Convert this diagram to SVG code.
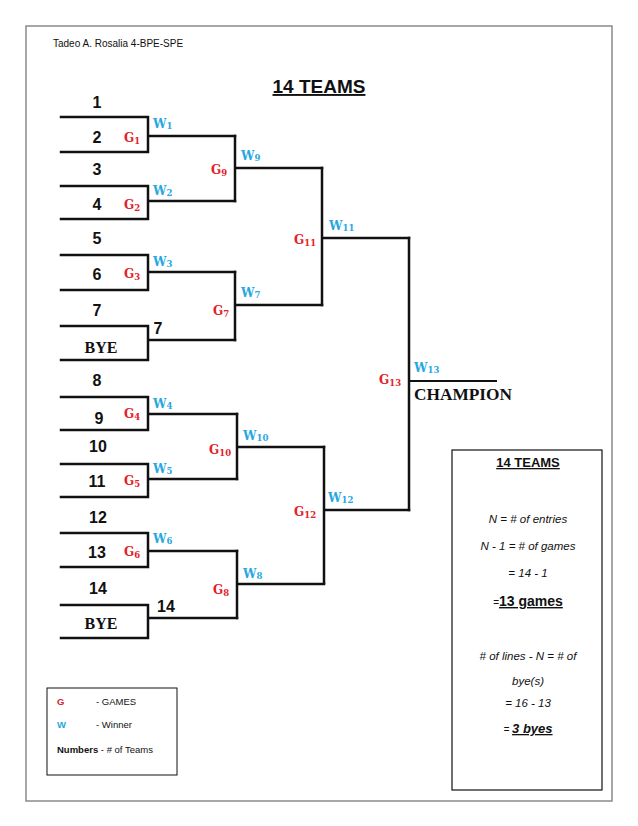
<svg xmlns="http://www.w3.org/2000/svg" width="638" height="826" viewBox="0 0 638 826">
<style>
.pg{fill:none;stroke:#8a8a8a;stroke-width:1.5}
.ln{fill:none;stroke:#111;stroke-width:2.5;stroke-linecap:square}
.num{font-family:"Liberation Sans",Arial,sans-serif;font-weight:bold;font-size:16px;fill:#111;text-anchor:middle}
.bye{font-family:"Liberation Serif","DejaVu Serif",serif;font-weight:bold;font-size:16px;fill:#111}
.g{font-family:"DejaVu Serif",serif;font-weight:bold;font-size:12px;fill:#e32129}
.w{font-family:"DejaVu Serif",serif;font-weight:bold;font-size:12px;fill:#27a7df}
.sub{font-size:8.5px}
.box{font-family:"Liberation Sans",Arial,sans-serif;font-size:11.5px;fill:#111;text-anchor:middle;font-style:italic}
.leg{font-family:"Liberation Sans",Arial,sans-serif;font-size:9.5px;fill:#111}
</style>
<rect x="0" y="0" width="638" height="826" fill="#fff"/>
<rect class="pg" x="26" y="26" width="586" height="775"/>
<text x="53" y="47" font-family="Liberation Sans, Arial, sans-serif" font-size="10" fill="#111">Tadeo A. Rosalia 4-BPE-SPE</text>
<text x="319" y="93" font-family="Liberation Sans, Arial, sans-serif" font-size="19" font-weight="bold" fill="#111" text-anchor="middle" text-decoration="underline">14 TEAMS</text>

<g id="connectors">
<path class="ln" d="M61,117H148V152H61M148,136H235"/>
<path class="ln" d="M61,186H148V219H61M148,201H235"/>
<path class="ln" d="M61,255H148V290H61M148,272H235"/>
<path class="ln" d="M61,326H148V360H61M148,340H235"/>
<path class="ln" d="M61,397H148V430H61M148,414H237"/>
<path class="ln" d="M61,464H148V497H61M148,479H237"/>
<path class="ln" d="M61,533H148V567H61M148,551H237"/>
<path class="ln" d="M61,605H148V638H61M148,618H237"/>
<path class="ln" d="M235,136V201M235,168H322"/>
<path class="ln" d="M235,272V340M235,305H322"/>
<path class="ln" d="M237,414V479M237,447H324"/>
<path class="ln" d="M237,551V618M237,584H324"/>
<path class="ln" d="M322,168V305M322,238H409"/>
<path class="ln" d="M324,447V583M324,510H409"/>
<path class="ln" d="M409,238V510"/>
<path d="M409,381H497" stroke="#111" stroke-width="2" fill="none"/>
</g>

<g id="teams">
<text class="num" x="97" y="108">1</text>
<text class="num" x="97" y="143">2</text>
<text class="num" x="97" y="175">3</text>
<text class="num" x="97" y="210">4</text>
<text class="num" x="97" y="244">5</text>
<text class="num" x="97" y="280">6</text>
<text class="num" x="97" y="316">7</text>
<text class="bye" x="101" y="353" style="text-anchor:middle">BYE</text>
<text class="num" x="97" y="386">8</text>
<text class="num" x="99" y="424">9</text>
<text class="num" x="98" y="452">10</text>
<text class="num" x="97" y="487">11</text>
<text class="num" x="98" y="523">12</text>
<text class="num" x="97" y="558">13</text>
<text class="num" x="98" y="594">14</text>
<text class="bye" x="101" y="629" style="text-anchor:middle">BYE</text>
<text class="num" x="158" y="334">7</text>
<text class="num" x="166" y="612">14</text>
</g>

<g id="games">
<text class="g" x="124" y="142">G<tspan class="sub" dy="2">1</tspan></text>
<text class="g" x="124" y="209">G<tspan class="sub" dy="2">2</tspan></text>
<text class="g" x="124" y="278">G<tspan class="sub" dy="2">3</tspan></text>
<text class="g" x="124" y="418">G<tspan class="sub" dy="2">4</tspan></text>
<text class="g" x="124" y="485">G<tspan class="sub" dy="2">5</tspan></text>
<text class="g" x="124" y="556">G<tspan class="sub" dy="2">6</tspan></text>
<text class="g" x="213" y="315">G<tspan class="sub" dy="2">7</tspan></text>
<text class="g" x="213" y="594">G<tspan class="sub" dy="2">8</tspan></text>
<text class="g" x="211" y="174">G<tspan class="sub" dy="2">9</tspan></text>
<text class="g" x="209" y="454">G<tspan class="sub" dy="2">10</tspan></text>
<text class="g" x="294" y="244">G<tspan class="sub" dy="2">11</tspan></text>
<text class="g" x="294" y="516">G<tspan class="sub" dy="2">12</tspan></text>
<text class="g" x="379" y="384">G<tspan class="sub" dy="2">13</tspan></text>
</g>

<g id="winners">
<text class="w" x="153" y="128">W<tspan class="sub" dy="1">1</tspan></text>
<text class="w" x="153" y="195">W<tspan class="sub" dy="1">2</tspan></text>
<text class="w" x="153" y="266">W<tspan class="sub" dy="1">3</tspan></text>
<text class="w" x="153" y="408">W<tspan class="sub" dy="1">4</tspan></text>
<text class="w" x="153" y="473">W<tspan class="sub" dy="1">5</tspan></text>
<text class="w" x="153" y="543">W<tspan class="sub" dy="1">6</tspan></text>
<text class="w" x="241" y="297">W<tspan class="sub" dy="1">7</tspan></text>
<text class="w" x="243" y="578">W<tspan class="sub" dy="1">8</tspan></text>
<text class="w" x="241" y="160">W<tspan class="sub" dy="1">9</tspan></text>
<text class="w" x="243" y="440">W<tspan class="sub" dy="1">10</tspan></text>
<text class="w" x="329" y="230">W<tspan class="sub" dy="1">11</tspan></text>
<text class="w" x="328" y="502">W<tspan class="sub" dy="1">12</tspan></text>
<text class="w" x="414" y="372">W<tspan class="sub" dy="1">13</tspan></text>
</g>

<g id="champion">
<text class="bye" x="414" y="400" textLength="98" lengthAdjust="spacingAndGlyphs">CHAMPION</text>
</g>

<g id="info-box">
<rect x="452" y="450" width="150" height="340" fill="#fff" stroke="#111" stroke-width="1.2"/>
<text x="528" y="467" font-family="Liberation Sans, Arial, sans-serif" font-size="13" font-weight="bold" fill="#111" text-anchor="middle" text-decoration="underline">14 TEAMS</text>
<text class="box" x="528" y="523">N = # of entries</text>
<text class="box" x="528" y="550">N - 1 = # of games</text>
<text class="box" x="528" y="577">= 14 - 1</text>
<text class="box" x="528" y="606" style="font-style:normal"><tspan font-size="10">=</tspan><tspan font-size="14" font-weight="bold" text-decoration="underline">13 games</tspan></text>
<text class="box" x="528" y="660"># of lines - N = # of</text>
<text class="box" x="528" y="685">bye(s)</text>
<text class="box" x="528" y="707">= 16 - 13</text>
<text class="box" x="528" y="733"><tspan font-size="10">= </tspan><tspan font-size="13" font-weight="bold" text-decoration="underline">3 byes</tspan></text>
</g>

<g id="legend">
<rect x="47" y="688" width="130" height="87" fill="#fff" stroke="#111" stroke-width="1"/>
<text class="leg" x="57" y="705" style="fill:#d0262b;font-weight:bold">G</text>
<text class="leg" x="96" y="705">- GAMES</text>
<text class="leg" x="57" y="728" style="fill:#27a7df;font-weight:bold">W</text>
<text class="leg" x="96" y="728">- Winner</text>
<text class="leg" x="57" y="753"><tspan font-weight="bold">Numbers</tspan> - # of Teams</text>
</g>
</svg>
